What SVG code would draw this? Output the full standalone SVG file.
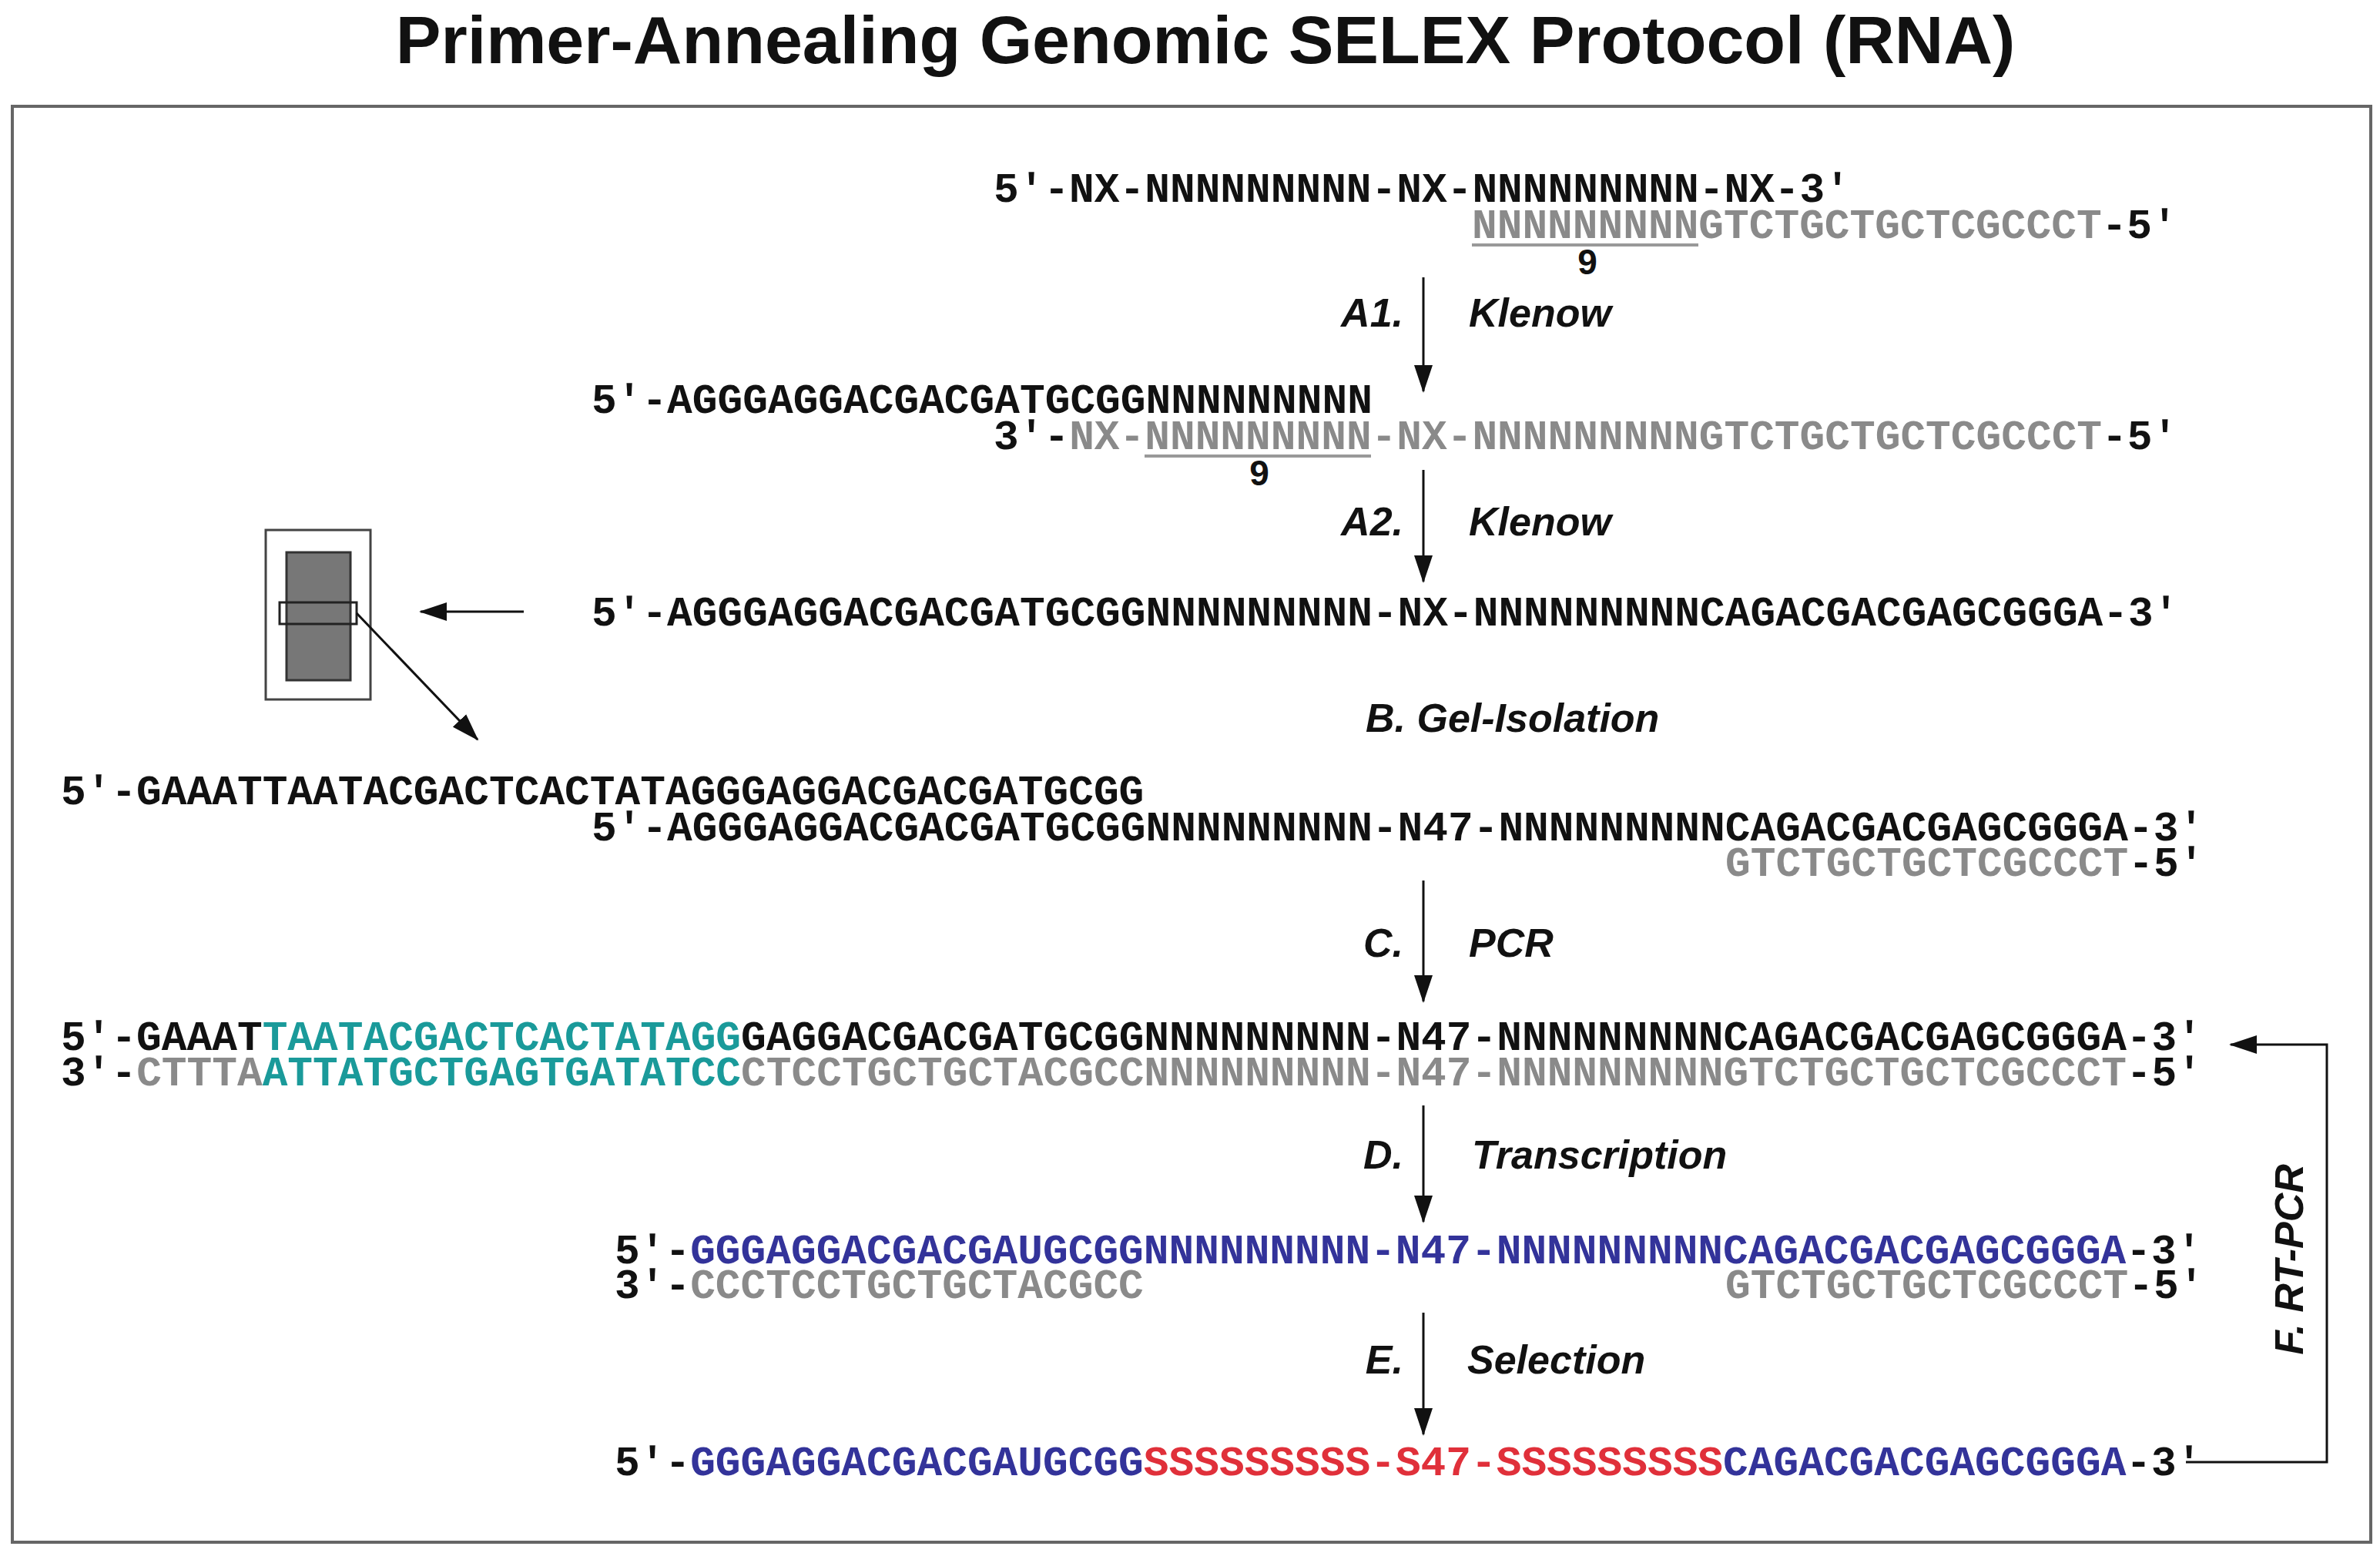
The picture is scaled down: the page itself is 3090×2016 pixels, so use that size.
<svg xmlns="http://www.w3.org/2000/svg" width="3090" height="2016" viewBox="0 0 3090 2016">
<style>
.s{font-family:"Liberation Mono",monospace;font-weight:bold;font-size:54.5px;fill:#111}
.g{fill:#8a8a8a}.t{fill:#1a9a9a}.b{fill:#33339a}.r{fill:#e0303a}
.l{font-family:"Liberation Sans",Arial,sans-serif;font-weight:bold;font-style:italic;font-size:52px;fill:#111}
.n{font-family:"Liberation Sans",Arial,sans-serif;font-weight:bold;font-size:46px;fill:#111}
.ar{stroke:#111;stroke-width:3;fill:none}
</style>
<defs>
<marker id="M" markerWidth="36" markerHeight="24" refX="34" refY="12" orient="auto" markerUnits="userSpaceOnUse"><path d="M0,0L36,12L0,24z" fill="#111"/></marker></defs>
<rect width="3090" height="2016" fill="#fff"/>
<text x="1565" y="82" text-anchor="middle" style="font-family:'Liberation Sans',Arial,sans-serif;font-weight:bold;font-size:88px;fill:#111">Primer-Annealing Genomic SELEX Protocol (RNA)</text>
<rect x="16" y="138" width="3062" height="1864" fill="none" stroke="#666" stroke-width="4"/>
<g id="gel">
<rect x="345" y="688" width="136" height="220" fill="none" stroke="#444" stroke-width="3"/>
<rect x="372" y="717" width="83" height="166" fill="#777" stroke="#333" stroke-width="3"/>
<rect x="363" y="782" width="100" height="28" fill="none" stroke="#222" stroke-width="3"/>
</g>
<g id="connectors">
<line class="ar" x1="1848" y1="360" x2="1848" y2="508" marker-end="url(#M)"/>
<line class="ar" x1="1848" y1="610" x2="1848" y2="755" marker-end="url(#M)"/>
<line class="ar" x1="1848" y1="1143" x2="1848" y2="1300" marker-end="url(#M)"/>
<line class="ar" x1="1848" y1="1435" x2="1848" y2="1586" marker-end="url(#M)"/>
<line class="ar" x1="1848" y1="1704" x2="1848" y2="1862" marker-end="url(#M)"/>
<line class="ar" x1="680" y1="794" x2="546" y2="794" stroke-width="5" marker-end="url(#M)"/>
<line class="ar" x1="463" y1="796" x2="620" y2="960" marker-end="url(#M)"/>
<polyline class="ar" points="2838,1898 3021,1898 3021,1356 2896,1356" marker-end="url(#M)"/>
</g>
<g id="labels">
<text class="l" x="1822" y="424" text-anchor="end">A1.</text><text class="l" x="1907" y="424">Klenow</text>
<text class="l" x="1822" y="695" text-anchor="end">A2.</text><text class="l" x="1907" y="695">Klenow</text>
<text class="l" x="1773" y="950">B. Gel-Isolation</text>
<text class="l" x="1822" y="1242" text-anchor="end">C.</text><text class="l" x="1907" y="1242">PCR</text>
<text class="l" x="1822" y="1517" text-anchor="end">D.</text><text class="l" x="1911" y="1517">Transcription</text>
<text class="l" x="1822" y="1783" text-anchor="end">E.</text><text class="l" x="1905" y="1783">Selection</text>
<text class="l" transform="translate(2990,1635) rotate(-90)" text-anchor="middle">F. RT-PCR</text>
</g>
<g id="seq1">
<text class="s" x="1290" y="262">5′-NX-NNNNNNNNN-NX-NNNNNNNNN-NX-3′</text>
<text class="s" x="1911" y="309"><tspan class="g">NNNNNNNNNGTCTGCTGCTCGCCCT</tspan>-5′</text>
<line x1="1911" y1="318" x2="2205" y2="318" stroke="#999" stroke-width="4"/>
<text class="n" x="2061" y="356" text-anchor="middle">9</text>
</g>
<g id="seq2">
<text class="s" x="768" y="536">5′-AGGGAGGACGACGATGCGGNNNNNNNNN</text>
<text class="s" x="1290" y="583">3′-<tspan class="g">NX-NNNNNNNNN-NX-NNNNNNNNNGTCTGCTGCTCGCCCT</tspan>-5′</text>
<line x1="1486" y1="592" x2="1780" y2="592" stroke="#999" stroke-width="4"/>
<text class="n" x="1635" y="630" text-anchor="middle">9</text>
</g>
<g id="seq3"><text class="s" x="768" y="812">5′-AGGGAGGACGACGATGCGGNNNNNNNNN-NX-NNNNNNNNNCAGACGACGAGCGGGA-3′</text></g>
<g id="seq4">
<text class="s" x="79" y="1044">5′-GAAATTAATACGACTCACTATAGGGAGGACGACGATGCGG</text>
<text class="s" x="768" y="1091">5′-AGGGAGGACGACGATGCGGNNNNNNNNN-N47-NNNNNNNNNCAGACGACGAGCGGGA-3′</text>
<text class="s" x="2240" y="1137"><tspan class="g">GTCTGCTGCTCGCCCT</tspan>-5′</text>
</g>
<g id="seq5">
<text class="s" x="79" y="1363">5′-GAAAT<tspan class="t">TAATACGACTCACTATAGG</tspan>GAGGACGACGATGCGGNNNNNNNNN-N47-NNNNNNNNNCAGACGACGAGCGGGA-3′</text>
<text class="s" x="79" y="1409">3′-<tspan class="g">CTTTA</tspan><tspan class="t">ATTATGCTGAGTGATATCC</tspan><tspan class="g">CTCCTGCTGCTACGCCNNNNNNNNN-N47-NNNNNNNNNGTCTGCTGCTCGCCCT</tspan>-5′</text>
</g>
<g id="seq6">
<text class="s" x="798" y="1640">5′-<tspan class="b">GGGAGGACGACGAUGCGGNNNNNNNNN-N47-NNNNNNNNNCAGACGACGAGCGGGA</tspan>-3′</text>
<text class="s" x="798" y="1685">3′-<tspan class="g">CCCTCCTGCTGCTACGCC</tspan></text>
<text class="s" x="2240" y="1685"><tspan class="g">GTCTGCTGCTCGCCCT</tspan>-5′</text>
</g>
<g id="seq7"><text class="s" x="798" y="1915">5′-<tspan class="b">GGGAGGACGACGAUGCGG</tspan><tspan class="r">SSSSSSSSS-S47-SSSSSSSSS</tspan><tspan class="b">CAGACGACGAGCGGGA</tspan>-3′</text></g>
</svg>
